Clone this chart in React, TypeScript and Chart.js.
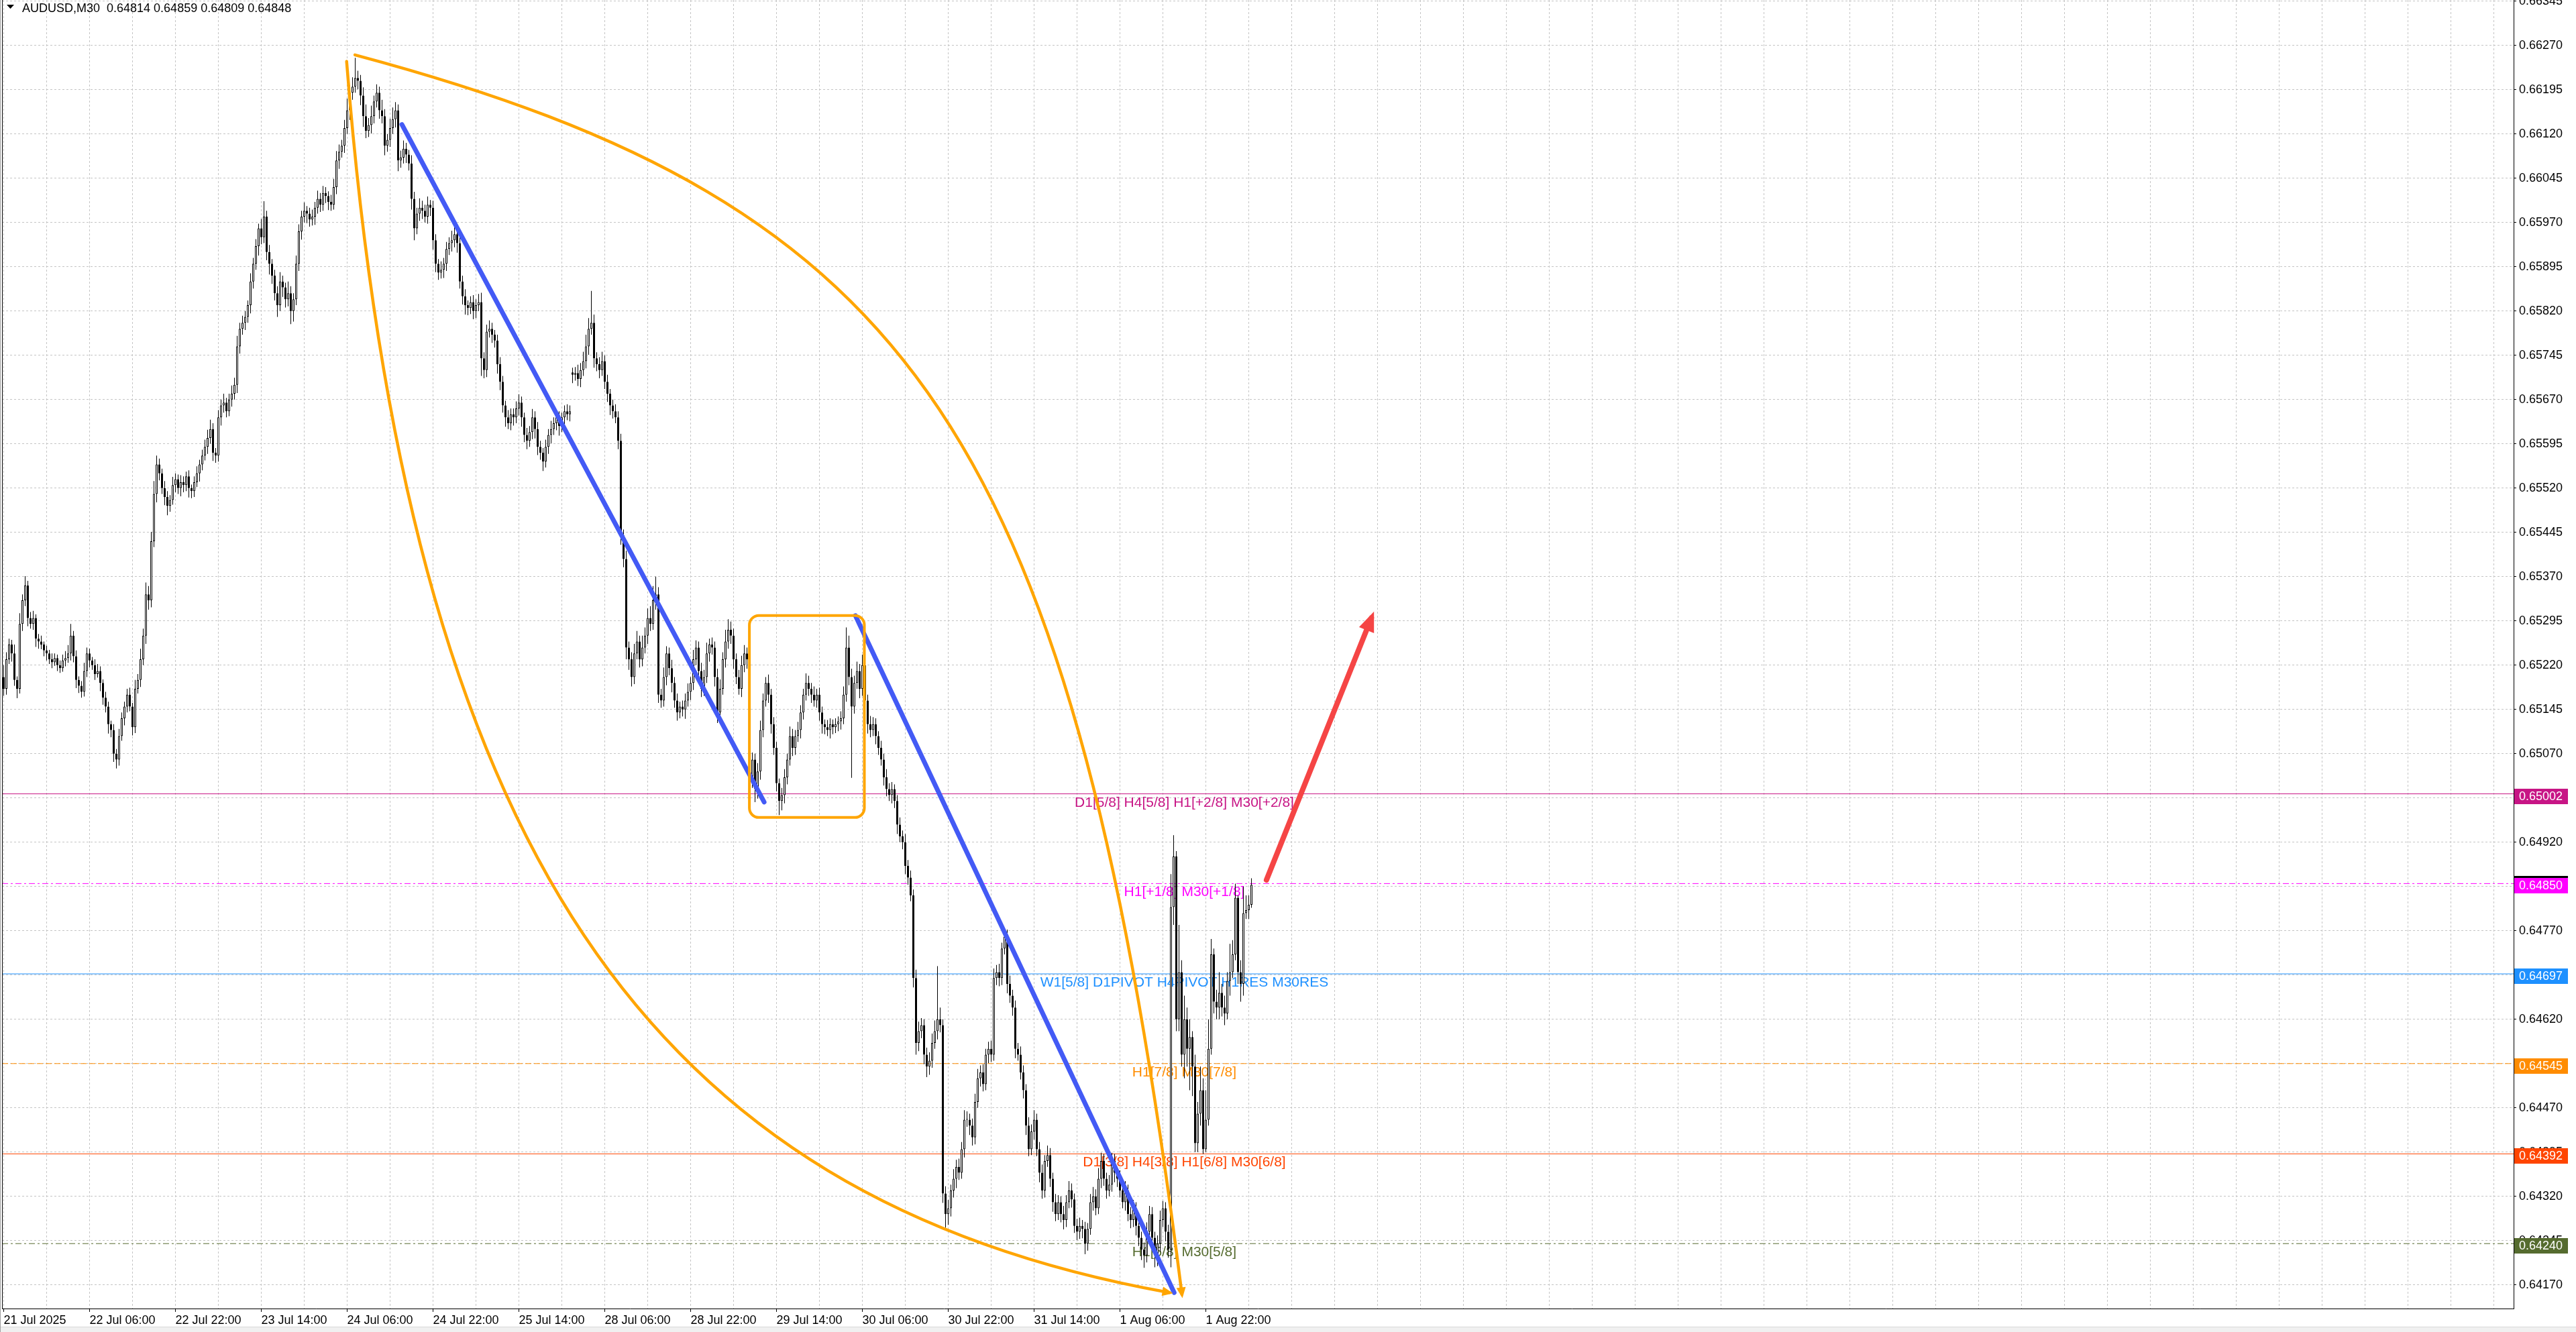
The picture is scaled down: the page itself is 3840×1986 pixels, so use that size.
import React, { useEffect, useRef } from 'react';
import { Chart, registerables } from 'chart.js';

Chart.register(...registerables);

// ---------- data ----------
const TITLE = 'AUDUSD,M30  0.64814 0.64859 0.64809 0.64848';
const TIME_LABELS = [
  '21 Jul 2025', '22 Jul 06:00', '22 Jul 22:00', '23 Jul 14:00', '24 Jul 06:00',
  '24 Jul 22:00', '25 Jul 14:00', '28 Jul 06:00', '28 Jul 22:00', '29 Jul 14:00',
  '30 Jul 06:00', '30 Jul 22:00', '31 Jul 14:00', '1 Aug 06:00', '1 Aug 22:00',
];
const BARS_PER_LABEL = 32;
const BARS_PER_GRID = 16;
const PRICE_TICKS = [
  0.64170, 0.64245, 0.64320, 0.64395, 0.64470, 0.64545, 0.64620, 0.64695, 0.64770, 0.64845,
  0.64920, 0.64995, 0.65070, 0.65145, 0.65220, 0.65295, 0.65370, 0.65445, 0.65520, 0.65595,
  0.65670, 0.65745, 0.65820, 0.65895, 0.65970, 0.66045, 0.66120, 0.66195, 0.66270, 0.66345,
];

// closes in points (1e-5)
const CLOSE = [
  65180, 65230, 65255, 65240, 65195, 65180, 65290, 65330, 65355, 65300,
  65290, 65300, 65265, 65260, 65255, 65245, 65240, 65230, 65225, 65232,
  65220, 65215, 65228, 65232, 65240, 65270, 65235, 65195, 65185, 65175,
  65210, 65240, 65228, 65220, 65205, 65210, 65190, 65165, 65150, 65120,
  65110, 65070, 65060, 65100, 65130, 65150, 65170, 65150, 65115, 65180,
  65195, 65230, 65270, 65340, 65330, 65430, 65510, 65560, 65545, 65520,
  65505, 65490, 65500, 65525, 65535, 65520, 65530, 65525, 65540, 65520,
  65515, 65530, 65545, 65560, 65575, 65590, 65605, 65620, 65580, 65575,
  65640, 65660, 65665, 65650, 65670, 65680, 65695, 65760, 65790, 65800,
  65810, 65830, 65870, 65900, 65930, 65960, 65945, 65980, 65920, 65900,
  65880, 65850, 65830, 65870, 65860, 65840, 65850, 65820, 65840, 65900,
  65955, 65980, 65990, 65985, 65975, 65980, 65995, 66010, 66000, 66020,
  66015, 66005, 66000, 66030, 66075, 66090, 66100, 66130, 66160, 66190,
  66200, 66215, 66210, 66185, 66150, 66125, 66135, 66150, 66175, 66190,
  66160, 66150, 66100, 66110, 66130, 66145, 66160, 66075, 66080, 66095,
  66085, 66070, 66010, 65960, 65985, 65995, 65990, 65980, 66000, 65995,
  65940, 65900, 65885, 65890, 65900, 65925, 65935, 65940, 65950, 65935,
  65870, 65845, 65830, 65825, 65835, 65820, 65830, 65835, 65740, 65720,
  65785, 65790, 65780, 65770, 65730, 65700, 65660, 65640, 65630, 65645,
  65640, 65655, 65665, 65640, 65610, 65600, 65615, 65640, 65620, 65590,
  65580, 65565, 65590, 65610, 65620, 65630, 65640, 65625, 65640, 65650,
  65645, 65650, 65712, 65715, 65705, 65720, 65735, 65760, 65790, 65800,
  65740, 65730, 65720, 65735, 65700, 65680, 65660, 65650, 65640, 65600,
  65440, 65400, 65250, 65230, 65200, 65240, 65260, 65230, 65250, 65270,
  65300, 65290, 65330, 65340, 65170, 65160, 65200, 65240, 65215, 65190,
  65160, 65140, 65150, 65145, 65160, 65175, 65190, 65230, 65250, 65210,
  65180, 65200, 65240, 65255, 65250, 65200, 65140, 65180, 65230, 65260,
  65280, 65270, 65230, 65200, 65180, 65220, 65240, 65230, 65030, 65060,
  65010, 65040, 65110, 65160, 65190, 65170, 65120, 65080, 65020, 64990,
  65000, 65030, 65060, 65100, 65080, 65100, 65110, 65140, 65170, 65190,
  65180, 65170, 65160, 65170, 65140, 65120, 65115, 65110, 65120, 65115,
  65120, 65125, 65130, 65170, 65250, 65200, 65150, 65190, 65210, 65180,
  65220, 65160, 65120, 65110, 65120, 65100, 65080, 65060, 65030, 65010,
  65000, 65010, 64990, 64950, 64930, 64920, 64880, 64860, 64830, 64690,
  64580, 64600, 64610, 64560, 64540, 64550, 64580, 64600, 64620, 64610,
  64325, 64290, 64300, 64330, 64350, 64370, 64360, 64400, 64450, 64450,
  64440, 64420, 64480, 64520, 64530, 64510, 64560, 64570, 64560, 64690,
  64700, 64690, 64740, 64760, 64680, 64660, 64640, 64570, 64560, 64530,
  64500, 64440, 64400, 64430, 64450, 64400, 64360, 64330, 64380, 64390,
  64350, 64310, 64290, 64310, 64290, 64280, 64310, 64330, 64315, 64270,
  64260, 64270, 64265, 64240, 64265, 64310, 64320, 64300, 64350, 64380,
  64350, 64330, 64340, 64380, 64360, 64350, 64330, 64310, 64330, 64290,
  64280, 64300, 64270, 64250, 64230, 64220, 64260, 64290, 64250, 64220,
  64240, 64280, 64300, 64260, 64230, 64810, 64896, 64620, 64700, 64560,
  64620, 64570, 64590, 64540, 64410, 64460, 64500, 64400, 64450, 64570,
  64730, 64650, 64640, 64665, 64640, 64630, 64685, 64700, 64730, 64826,
  64700, 64680, 64800, 64805, 64814, 64848,
];
const UP_WICK = [
  20, 12, 10, 8, 15, 6, 18, 10, 16, 8, 10, 12, 6, 8, 10, 5, 8, 6, 10, 8,
  6, 8, 10, 12, 14, 20, 8, 10, 6, 8, 14, 10, 8, 6, 10, 12, 8, 6, 10, 8,
  6, 10, 8, 12, 10, 8, 10, 12, 6, 15, 10, 18, 12, 20, 14, 16, 22, 15, 10, 8,
  12, 10, 8, 14, 10, 8, 12, 10, 8, 10, 6, 10, 12, 8, 10, 12, 14, 16, 10, 8,
  12, 10, 15, 8, 10, 14, 12, 18, 10, 12, 10, 8, 14, 10, 12, 8, 16, 26, 10, 12,
  8, 10, 12, 16, 10, 8, 20, 12, 10, 14, 12, 10, 14, 8, 10, 12, 10, 14, 10, 12,
  10, 8, 12, 14, 16, 12, 10, 14, 20, 12, 16, 34, 12, 10, 14, 20, 12, 18, 10, 14,
  10, 18, 12, 10, 16, 20, 14, 10, 12, 14, 10, 8, 14, 12, 10, 16, 12, 10, 14, 8,
  12, 10, 8, 14, 10, 12, 10, 16, 12, 10, 14, 10, 12, 8, 10, 12, 10, 14, 16, 10,
  12, 14, 10, 8, 10, 12, 10, 8, 12, 10, 10, 12, 14, 10, 8, 12, 10, 14, 10, 12,
  10, 8, 12, 10, 14, 10, 12, 10, 8, 10, 12, 10, 8, 10, 14, 12, 16, 20, 18, 54,
  14, 10, 12, 16, 10, 12, 8, 10, 12, 10, 12, 10, 14, 10, 12, 16, 18, 10, 20, 14,
  16, 20, 24, 30, 12, 10, 16, 12, 10, 14, 10, 12, 8, 10, 12, 14, 10, 16, 12, 10,
  14, 12, 18, 10, 12, 10, 14, 16, 12, 20, 18, 14, 12, 10, 12, 16, 14, 10, 14, 12,
  10, 14, 16, 12, 10, 14, 10, 12, 10, 8, 12, 14, 10, 16, 12, 10, 14, 12, 10, 16,
  12, 10, 14, 10, 12, 10, 8, 12, 10, 8, 10, 8, 12, 14, 34, 20, 14, 12, 16, 12,
  18, 12, 10, 14, 12, 10, 8, 12, 10, 14, 10, 12, 8, 10, 12, 10, 14, 10, 12, 10,
  14, 16, 12, 10, 12, 14, 16, 18, 90, 20, 10, 12, 14, 10, 16, 12, 14, 12, 16, 14,
  10, 12, 14, 16, 12, 14, 10, 12, 14, 16, 12, 14, 10, 10, 12, 14, 10, 12, 10, 14,
  12, 10, 14, 12, 16, 10, 12, 14, 10, 16, 12, 10, 14, 12, 10, 14, 12, 16, 12, 10,
  12, 14, 10, 12, 10, 14, 16, 12, 18, 14, 12, 10, 16, 14, 12, 10, 14, 12, 16, 10,
  12, 14, 10, 12, 10, 12, 16, 14, 12, 10, 14, 16, 12, 10, 12,
  56, 36, 9, 80, 20, 40, 20, 30, 10, 20, 20, 40, 20, 50, 50, 26, 10, 20, 35, 15,
  20, 15, 48, 24, 24, 4, 20, 45, 25, 16, 11,
];
const DN_WICK = [
  12, 10, 8, 14, 10, 16, 8, 12, 10, 14, 8, 10, 14, 12, 8, 10, 12, 8, 10, 6,
  10, 8, 6, 10, 8, 12, 10, 14, 12, 10, 8, 10, 12, 8, 10, 6, 14, 12, 10, 16,
  12, 14, 15, 10, 8, 12, 10, 8, 14, 10, 8, 12, 10, 14, 16, 12, 10, 14, 12, 10,
  14, 16, 10, 8, 12, 10, 14, 12, 10, 16, 12, 10, 8, 14, 10, 8, 12, 10, 14, 12,
  10, 14, 12, 10, 8, 12, 10, 14, 12, 10, 12, 10, 14, 12, 10, 16, 12, 10, 14, 18,
  14, 12, 20, 10, 16, 14, 12, 22, 18, 10, 12, 14, 10, 16, 12, 10, 14, 10, 12, 10,
  12, 14, 10, 8, 12, 14, 10, 12, 10, 16, 12, 10, 14, 16, 18, 12, 10, 14, 12, 10,
  14, 12, 16, 10, 12, 10, 14, 18, 12, 10, 14, 12, 18, 20, 10, 12, 14, 10, 12, 14,
  16, 14, 12, 10, 14, 12, 10, 14, 12, 16, 12, 14, 16, 12, 10, 14, 12, 10, 30, 14,
  12, 10, 14, 12, 16, 14, 12, 16, 10, 12, 14, 10, 12, 16, 12, 14, 10, 12, 16, 14,
  12, 16, 10, 12, 14, 10, 12, 16, 10, 12, 10, 12, 14, 10, 12, 14, 10, 12, 14, 10,
  16, 12, 14, 10, 12, 14, 16, 12, 10, 14, 16, 14, 20, 18, 16, 12, 10, 14, 12, 10,
  14, 12, 10, 16, 14, 12, 10, 14, 12, 16, 12, 14, 10, 12, 16, 10, 14, 12, 10, 16,
  14, 12, 10, 14, 12, 16, 18, 12, 10, 14, 12, 14, 16, 12, 10, 14, 12, 16, 20, 18,
  22, 16, 14, 12, 10, 14, 16, 12, 14, 24, 16, 14, 12, 10, 14, 12, 10, 14, 12, 10,
  12, 14, 10, 12, 14, 16, 12, 10, 14, 12, 10, 12, 14, 10, 12, 14, 121, 12, 10, 16,
  12, 14, 16, 12, 10, 14, 12, 10, 14, 12, 10, 14, 12, 16, 10, 12, 14, 12, 10, 16,
  20, 14, 12, 16, 18, 14, 12, 10, 14, 12, 16, 23, 18, 14, 12, 16, 12, 10, 14, 12,
  16, 14, 12, 10, 14, 12, 10, 14, 12, 10, 12, 14, 12, 10, 16, 12, 14, 16, 10, 12,
  14, 16, 12, 10, 14, 12, 16, 14, 12, 10, 14, 16, 12, 10, 14, 16, 12, 10, 14, 12,
  14, 12, 16, 18, 12, 10, 14, 12, 10, 16, 12, 14, 10, 12, 16, 14, 12, 10, 14, 12,
  14, 12, 16, 14, 18, 21, 12, 14, 16, 20, 18, 14, 12, 16, 14,
  30, 30, 20, 20, 20, 40, 30, 70, 50, 15, 15, 20, 8, 5, 10, 10, 20, 20, 20, 15,
  20, 10, 25, 10, 10, 20, 30, 20, 10, 15, 5,
];
// bars whose open differs from the previous close: [bar, open]
const OPEN_OVERRIDES = [[0, 65200], [212, 65716]];

// horizontal levels
const LEVEL_PRICES = [0.65002, 0.64850, 0.64697, 0.64545, 0.64392, 0.64240];
const LEVEL_TEXTS = [
  'D1[5/8] H4[5/8] H1[+2/8] M30[+2/8]',
  'H1[+1/8] M30[+1/8]',
  'W1[5/8] D1PIVOT H4PIVOT H1RES M30RES',
  'H1[7/8] M30[7/8]',
  'D1[3/8] H4[3/8] H1[6/8] M30[6/8]',
  'H1[5/8] M30[5/8]',
];
const LEVEL_COLORS = ['#C71585', '#FF00FF', '#1E90FF', '#FF8C00', '#FF4500', '#556B2F'];
const LEVEL_DASH = [[], [9, 4, 3, 4], [], [9, 4], [], [9, 4, 3, 4]];
const LEVEL_TEXT_BAR = 440;
const BID_BOX_PRICE = 0.64854;

// drawn objects: [bar, price]
const BLUE_LINE_1 = [[148.4, 0.66136], [283.4, 0.64988]];
const BLUE_LINE_2 = [[317.4, 0.65304], [436.2, 0.64157]];
const RED_ARROW = [[470.6, 0.64856], [509.7, 0.65300]];
const ORANGE_BOX = [[277.9, 0.65304], [320.75, 0.64962]];
// cubic Bezier arcs: start, control 1, control 2, end
const ARC_LEFT = [[127.8, 0.66243], [150.7, 0.64915], [238.7, 0.64317], [434.4, 0.64157]];
const ARC_RIGHT = [[130.9, 0.66254], [341.0, 0.65999], [398.7, 0.65608], [439.1, 0.64154]];

// ---------- layout ----------
const W = 3840;
const H = 1986;
const X_MIN = -0.625;
const X_MAX = 935.375;
const Y_MIN = 0.6413;
const Y_MAX = 0.66347;
const FONT = "'Liberation Sans', Arial, sans-serif";

const PT = 1e-5;

function buildBars() {
  return CLOSE.map((c, i) => {
    const ov = OPEN_OVERRIDES.find((o) => o[0] === i);
    const o = ov ? ov[1] : CLOSE[i - 1];
    return {
      i,
      o,
      c,
      hi: Math.max(o, c) + UP_WICK[i],
      lo: Math.min(o, c) - DN_WICK[i],
    };
  });
}

function toXY(pts: number[][]) {
  return pts.map((p) => ({ x: p[0], y: p[1] }));
}

function arrowHead(ctx: CanvasRenderingContext2D, fx: number, fy: number, tx: number, ty: number, len: number, half: number, color: string) {
  const a = Math.atan2(ty - fy, tx - fx);
  ctx.save();
  ctx.fillStyle = color;
  ctx.beginPath();
  ctx.moveTo(tx + Math.cos(a) * len * 0.35, ty + Math.sin(a) * len * 0.35);
  ctx.lineTo(tx - Math.cos(a) * len * 0.65 + Math.cos(a + Math.PI / 2) * half, ty - Math.sin(a) * len * 0.65 + Math.sin(a + Math.PI / 2) * half);
  ctx.lineTo(tx - Math.cos(a) * len * 0.65 - Math.cos(a + Math.PI / 2) * half, ty - Math.sin(a) * len * 0.65 - Math.sin(a + Math.PI / 2) * half);
  ctx.closePath();
  ctx.fill();
  ctx.restore();
}

const overlayPlugin = {
  id: 'mt4overlay',
  beforeDatasetsDraw(chart: any) {
    const { ctx, scales } = chart;
    const x = scales.x;
    const y = scales.y;
    ctx.save();
    ctx.font = `21px ${FONT}`;
    ctx.textAlign = 'center';
    ctx.textBaseline = 'alphabetic';
    LEVEL_PRICES.forEach((p, k) => {
      ctx.fillStyle = LEVEL_COLORS[k];
      ctx.fillText(LEVEL_TEXTS[k], x.getPixelForValue(LEVEL_TEXT_BAR), y.getPixelForValue(p) + 19);
    });
    ctx.restore();
  },
  afterDatasetsDraw(chart: any) {
    const { ctx, scales, chartArea } = chart;
    const x = scales.x;
    const y = scales.y;
    const px = (p: number[]) => [x.getPixelForValue(p[0]), y.getPixelForValue(p[1])];
    ctx.save();
    ctx.beginPath();
    ctx.rect(chartArea.left, chartArea.top, chartArea.right - chartArea.left, chartArea.bottom - chartArea.top);
    ctx.clip();
    // arcs
    ctx.strokeStyle = '#FFA500';
    ctx.lineWidth = 4.5;
    ctx.lineCap = 'round';
    [ARC_LEFT, ARC_RIGHT].forEach((arc) => {
      const [a, b, c, d] = arc.map(px);
      ctx.beginPath();
      ctx.moveTo(a[0], a[1]);
      ctx.bezierCurveTo(b[0], b[1], c[0], c[1], d[0], d[1]);
      ctx.stroke();
    });
    // rounded orange box
    const b0 = px(ORANGE_BOX[0]);
    const b1 = px(ORANGE_BOX[1]);
    ctx.lineWidth = 4;
    ctx.beginPath();
    ctx.roundRect(b0[0], b0[1], b1[0] - b0[0], b1[1] - b0[1], 14);
    ctx.stroke();
    ctx.restore();
    // arrow heads
    const r0 = px(RED_ARROW[0]);
    const r1 = px(RED_ARROW[1]);
    arrowHead(ctx, r0[0], r0[1], r1[0], r1[1], 30, 12, '#F54545');
    const l0 = px(ARC_LEFT[2]);
    const l1 = px(ARC_LEFT[3]);
    arrowHead(ctx, l0[0], l0[1], l1[0], l1[1], 16, 7, '#FFA500');
    const q0 = px(ARC_RIGHT[2]);
    const q1 = px(ARC_RIGHT[3]);
    arrowHead(ctx, q0[0], q0[1], q1[0], q1[1], 16, 7, '#FFA500');
  },
  afterDraw(chart: any) {
    const { ctx, chartArea, scales } = chart;
    const y = scales.y;
    ctx.save();
    // left border
    ctx.fillStyle = '#000';
    ctx.fillRect(chartArea.left, 0, 1, chartArea.bottom);
    ctx.fillStyle = '#a0a0a0';
    ctx.fillRect(0, 0, 1, H);
    // bottom window strip
    ctx.fillStyle = '#f0f0f0';
    ctx.fillRect(1, 1978, W - 1, H - 1978);
    ctx.fillStyle = '#d8d8d8';
    ctx.fillRect(1, 1978, W - 1, 1);
    // price boxes
    const bx = chartArea.right + 1;
    const bw = 80;
    const bh = 23;
    ctx.font = `18px ${FONT}`;
    ctx.textAlign = 'left';
    ctx.textBaseline = 'middle';
    const box = (p: number, bg: string, label: string) => {
      const py = y.getPixelForValue(p);
      ctx.fillStyle = bg;
      ctx.fillRect(bx, Math.round(py - 8), bw, bh);
      ctx.fillStyle = '#fff';
      ctx.fillText(label, bx + 7, py + 4);
    };
    box(BID_BOX_PRICE, '#000', BID_BOX_PRICE.toFixed(5));
    LEVEL_PRICES.forEach((p, k) => box(p, LEVEL_COLORS[k], p.toFixed(5)));
    // title
    ctx.fillStyle = '#000';
    ctx.beginPath();
    ctx.moveTo(10, 7);
    ctx.lineTo(21, 7);
    ctx.lineTo(15.5, 13);
    ctx.closePath();
    ctx.fill();
    ctx.font = `18px ${FONT}`;
    ctx.textBaseline = 'alphabetic';
    ctx.fillText(TITLE, 33, 18);
    ctx.restore();
  },
};

export default function App() {
  const ref = useRef<HTMLCanvasElement | null>(null);

  useEffect(() => {
    const canvas = ref.current;
    if (!canvas) return;
    const bars = buildBars();
    const bodies = bars.map((b) => ({ x: b.i, y: [Math.min(b.o, b.c) * PT, Math.max(b.o, b.c) * PT] }));
    const bodyColors = bars.map((b) => (b.c >= b.o ? '#ffffff' : '#000000'));
    const wicks = bars.map((b) => ({ x: b.i, y: [b.lo * PT, b.hi * PT] }));

    const levelSets = LEVEL_PRICES.map((p, k) => ({
      type: 'line',
      data: [{ x: X_MIN, y: p }, { x: X_MAX, y: p }],
      borderColor: LEVEL_COLORS[k],
      borderWidth: 1,
      borderDash: LEVEL_DASH[k],
      pointRadius: 0,
      order: 10 + k,
    }));

    const lineSet = (pts: number[][], color: string, width: number, order: number) => ({
      type: 'line',
      data: toXY(pts),
      borderColor: color,
      borderWidth: width,
      borderCapStyle: 'round',
      pointRadius: 0,
      tension: 0,
      order,
    });

    const chart = new Chart(canvas, {
      type: 'bar',
      data: {
        datasets: [
          {
            type: 'bar',
            data: bodies,
            backgroundColor: bodyColors,
            borderColor: '#000',
            borderWidth: 1,
            borderSkipped: false,
            barThickness: 3,
            grouped: false,
            minBarLength: 1,
            inflateAmount: 0,
            order: 5,
          },
          {
            type: 'bar',
            data: wicks,
            backgroundColor: '#000',
            borderWidth: 0,
            barThickness: 1,
            grouped: false,
            inflateAmount: 0,
            order: 6,
          },
          ...levelSets,
          lineSet(BLUE_LINE_1, '#435AF5', 7, 2),
          lineSet(BLUE_LINE_2, '#435AF5', 7, 2),
          lineSet(RED_ARROW, '#F54545', 8, 1),
        ] as any,
      },
      options: {
        responsive: false,
        devicePixelRatio: 1,
        animation: false,
        events: [],
        layout: { padding: { left: 3, top: 0, right: 0, bottom: 0 } },
        plugins: { legend: { display: false }, tooltip: { enabled: false } },
        scales: {
          x: {
            type: 'linear',
            min: X_MIN,
            max: X_MAX,
            offset: false,
            afterBuildTicks: (scale: any) => {
              const t = [];
              for (let v = 0; v <= X_MAX; v += BARS_PER_GRID) t.push({ value: v });
              scale.ticks = t;
            },
            afterFit: (scale: any) => {
              scale.height = 35;
              scale.paddingLeft = 0;
              scale.paddingRight = 0;
            },
            grid: {
              offset: false,
              color: '#c4c4c4',
              lineWidth: 1,
              tickLength: 5,
              tickColor: (c: any) => (c.tick && c.tick.value % BARS_PER_LABEL === 0 && c.tick.value / BARS_PER_LABEL < TIME_LABELS.length ? '#000' : 'rgba(0,0,0,0)'),
            },
            border: { display: true, color: '#000', width: 1, dash: [3, 3] },
            ticks: {
              autoSkip: false,
              maxRotation: 0,
              minRotation: 0,
              align: 'start',
              padding: 2,
              color: '#000',
              font: { size: 18, family: FONT },
              callback: (v: any) => {
                const n = Number(v);
                if (n % BARS_PER_LABEL !== 0) return '';
                return TIME_LABELS[n / BARS_PER_LABEL] ?? '';
              },
            },
          },
          y: {
            type: 'linear',
            position: 'right',
            min: Y_MIN,
            max: Y_MAX,
            beginAtZero: false,
            afterBuildTicks: (scale: any) => {
              scale.ticks = PRICE_TICKS.map((v) => ({ value: v }));
            },
            afterFit: (scale: any) => {
              scale.width = 93;
              scale.paddingTop = 0;
              scale.paddingBottom = 0;
            },
            grid: { color: '#c4c4c4', lineWidth: 1, tickLength: 4, tickColor: '#000' },
            border: { display: true, color: '#000', width: 1, dash: [3, 3] },
            ticks: {
              padding: 4,
              color: '#000',
              font: { size: 18, family: FONT },
              callback: (v: any) => Number(v).toFixed(5),
            },
          },
        },
      },
      plugins: [overlayPlugin],
    } as any);

    return () => chart.destroy();
  }, []);

  return (
    <div style={{ position: 'fixed', left: 0, top: 0, width: W, height: H, background: '#fff' }}>
      <canvas ref={ref} width={W} height={H} style={{ display: 'block', width: W, height: H }} />
    </div>
  );
}
